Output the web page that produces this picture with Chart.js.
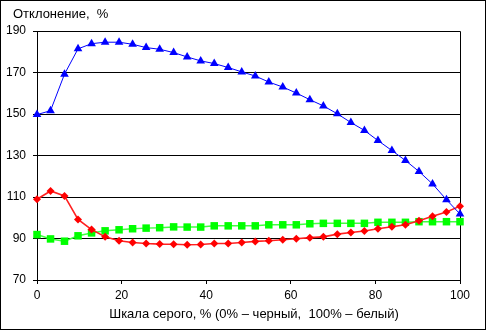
<!DOCTYPE html>
<html>
<head>
<meta charset="utf-8">
<script src="https://cdn.jsdelivr.net/npm/chart.js@4"></script>
<style>
  html, body { margin: 0; padding: 0; background: #fff; }
  canvas { display: block; }
</style>
</head>
<body>
<canvas id="grayChart" width="487" height="330"></canvas>
<script>
// gray scale, %
const grayLevels = [0, 3.2, 6.5, 9.7, 12.9, 16.1, 19.4, 22.6, 25.8, 29.0, 32.3, 35.5, 38.7, 41.9, 45.2, 48.4,
                    51.6, 54.8, 58.1, 61.3, 64.5, 67.7, 71.0, 74.2, 77.4, 80.6, 83.9, 87.1, 90.3, 93.5, 96.8, 100];

// deviation, %
const blueDev  = [149.7, 151.6, 169.2, 181.4, 183.9, 184.6, 184.6, 183.6, 182.0, 181.2, 179.6, 177.5, 175.6, 174.3, 172.4, 170.3,
                  168.3, 165.4, 163.0, 160.1, 156.9, 153.9, 150.1, 145.9, 142.1, 137.2, 132.4, 127.6, 122.3, 116.3, 108.7, 101.8];
const redDev   = [108.9, 112.9, 110.5, 99.2, 94.3, 90.8, 88.9, 88.1, 87.6, 87.3, 87.2, 87.0, 87.1, 87.6, 87.6, 88.1,
                  88.6, 88.9, 89.4, 89.9, 90.4, 90.8, 92.1, 92.9, 93.6, 94.7, 95.7, 96.6, 98.6, 100.7, 102.8, 105.6];
const greenDev = [91.9, 89.8, 88.7, 91.3, 92.7, 93.7, 94.2, 94.7, 95.0, 95.2, 95.6, 95.5, 95.5, 96.1, 96.1, 96.1,
                  96.1, 96.6, 96.6, 96.6, 97.1, 97.3, 97.3, 97.3, 97.3, 97.8, 97.8, 97.8, 98.1, 98.1, 98.1, 98.1];

const Y_TITLE = "Отклонение,  %";
const X_TITLE = "Шкала серого, % (0% – черный,  100% – белый)";

const FONT = "Liberation Sans, Arial, sans-serif";

const pts = vals => vals.map((v, i) => ({ x: grayLevels[i], y: v }));

// frame around the whole canvas + plot area border + axis captions
const framePlugin = {
  id: "frame",
  beforeDatasetsDraw(chart) {
    const { ctx, chartArea: a } = chart;
    ctx.save();
    ctx.strokeStyle = "#000";
    ctx.lineWidth = 1;
    ctx.beginPath();
    ctx.moveTo(Math.round(a.left) + 0.5, Math.round(a.top) + 0.5);
    ctx.lineTo(Math.round(a.right) + 0.5, Math.round(a.top) + 0.5);
    ctx.lineTo(Math.round(a.right) + 0.5, Math.round(a.bottom) + 0.5);
    ctx.stroke();
    ctx.restore();
  },
  afterDraw(chart) {
    const { ctx } = chart;
    ctx.save();
    ctx.strokeStyle = "#000";
    ctx.lineWidth = 1;
    ctx.strokeRect(0.5, 0.5, 485, 329);
    ctx.fillStyle = "#000";
    ctx.font = `13px ${FONT}`;
    ctx.textBaseline = "middle";
    ctx.textAlign = "left";
    ctx.fillText(Y_TITLE, 13, 14);
    ctx.textAlign = "center";
    ctx.fillText(X_TITLE, 254, 314);
    ctx.restore();
  },
};

new Chart(document.getElementById("grayChart"), {
  type: "scatter",
  data: {
    datasets: [
      {
        data: pts(blueDev),
        showLine: true,
        borderColor: "#0000ff",
        borderWidth: 1,
        backgroundColor: "#0000ff",
        pointStyle: "triangle",
        pointRadius: 5,
        pointBorderWidth: 0,
        clip: false,
      },
      {
        data: pts(redDev),
        showLine: true,
        borderColor: "#ff2020",
        borderWidth: 1.6,
        backgroundColor: "#ff0000",
        pointStyle: "rectRot",
        pointRadius: 4,
        pointBorderWidth: 0,
        clip: false,
      },
      {
        data: pts(greenDev),
        showLine: true,
        borderColor: "#40ff40",
        borderWidth: 1.5,
        backgroundColor: "#00ff00",
        pointStyle: "rect",
        pointRadius: 5.3,
        pointBorderWidth: 0,
        clip: false,
      },
    ],
  },
  options: {
    responsive: false,
    animation: false,
    devicePixelRatio: 1,
    layout: { padding: { top: 31, right: 27, left: 0, bottom: 0 } },
    plugins: {
      legend: { display: false },
      tooltip: { enabled: false },
    },
    scales: {
      x: {
        type: "linear",
        min: 0,
        max: 100,
        afterFit: s => { s.height = 50; },
        ticks: { stepSize: 20, color: "#000", font: { family: FONT, size: 12 }, padding: 4, maxRotation: 0 },
        grid: { drawOnChartArea: false, drawTicks: true, tickLength: 4, color: "#000" },
        border: { color: "#000", width: 1 },
      },
      y: {
        min: 70,
        max: 190,
        afterFit: s => { s.width = 37; },
        ticks: { stepSize: 20, color: "#000", font: { family: FONT, size: 12 }, padding: 7 },
        grid: { color: "#000", lineWidth: 1, tickLength: 4 },
        border: { color: "#000", width: 1 },
      },
    },
  },
  plugins: [framePlugin],
});
</script>
</body>
</html>
